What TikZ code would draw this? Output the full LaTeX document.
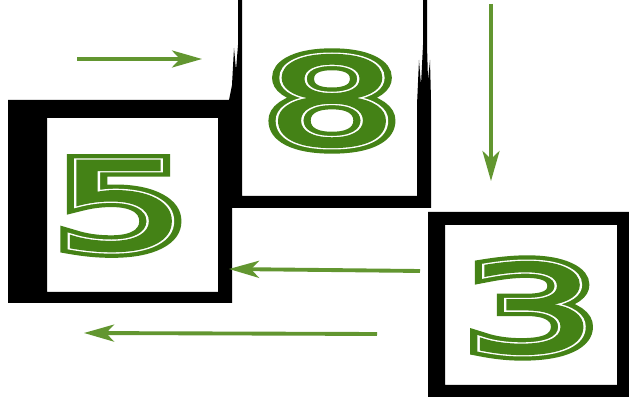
\documentclass[tikz,border=0pt]{standalone}
\usepackage{fontspec}
\usepackage{tikz}
\usetikzlibrary{arrows.meta, positioning}
\definecolor{digitgreen}{RGB}{68,130,22}
\definecolor{arrowgreen}{RGB}{98,150,48}
\newfontfamily\digitthick[FakeBold=10]{DejaVu Sans}
\newfontfamily\digitmid[FakeBold=3.2]{DejaVu Sans}
\newfontfamily\digitplain[FakeBold=1]{DejaVu Sans}
% green digit with a thin white inline
\newcommand\inlinedigit[1]{%
  \makebox[0pt]{\digitthick\color{digitgreen}#1}%
  \makebox[0pt]{\digitmid\color{white}#1}%
  \makebox[0pt]{\digitplain\color{digitgreen}#1}}

\begin{document}
\begin{tikzpicture}[
    x=0.02cm, y=-0.02cm,
    % Base styles
    frame/.style={fill=black, even odd rule},
    digit/.style={inner sep=0pt, xscale=1.72, font=\fontsize{70}{70}\selectfont},
    flow/.style={draw=arrowgreen, line width=2.2pt, -{Stealth[length=6mm, width=3.4mm, inset=1.6mm]}}
]
\useasboundingbox (0,0) rectangle (629,404);
\fill [white] (0,0) rectangle (629,404);

% --- Frames ---
% box 5
\fill [frame] (8,100) rectangle (232,303) (47,118) rectangle (218,292);
% box 8 (open at the top, ragged spikes)
\fill [frame] (238,0) -- (238,45) -- (236,70) -- (234,48) -- (232,85) -- (229,100) -- (228,103) -- (228,208) -- (431,208) -- (431,100) -- (430,60) -- (428,80) -- (427,45) -- (427,0) -- cycle
              (242,0) -- (242,196) -- (417,196) -- (417,105) -- (419,60) -- (421,85) -- (423,45) -- (423,0) -- cycle;
% box 3
\fill [frame] (428,212) rectangle (629,397) (445,225) rectangle (617,385);

% --- Nodes ---
\node [digit] (five) at (122,206) {\inlinedigit{5}};
\node [digit] (eight) at (332,101) {\inlinedigit{8}};
\node [digit] (three) at (532,308) {\inlinedigit{3}};

% arrow ends
\coordinate (inStart) at (77,59);
\coordinate (inEnd) at (202,59);
\coordinate (downStart) at (491,4);
\coordinate (downEnd) at (491,181);
\coordinate (backStart) at (420,271);
\coordinate (backEnd) at (229,269);
\coordinate (outStart) at (377,334);
\coordinate (outEnd) at (84,333);

% --- Arrows ---
\draw [flow] (inStart) -- (inEnd);
\draw [flow] (downStart) -- (downEnd);
\draw [flow] (backStart) -- (backEnd);
\draw [flow] (outStart) -- (outEnd);

\end{tikzpicture}
\end{document}
